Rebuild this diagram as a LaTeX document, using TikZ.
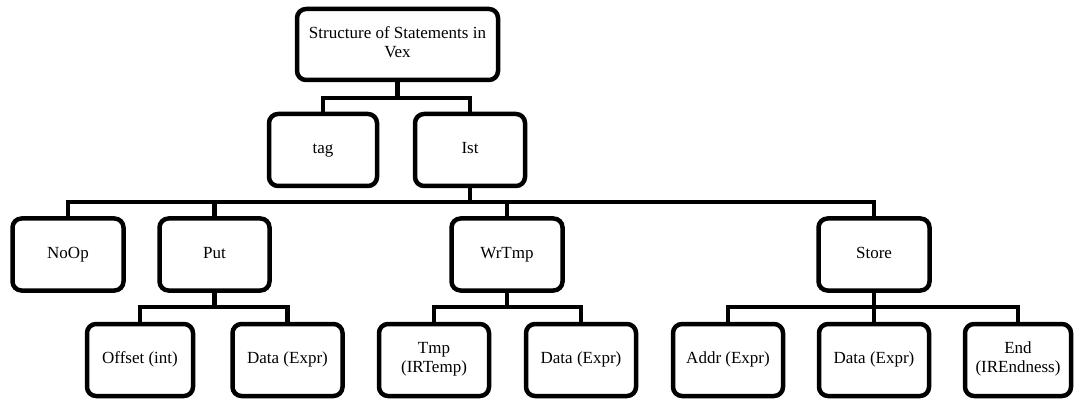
\documentclass[tikz,border=0pt]{standalone}
\usepackage{fontspec}
\setmainfont{Liberation Serif}
\begin{document}
\begin{tikzpicture}[x=1pt,y=-1pt,
  box/.style={draw=black, line width=4.5pt, rounded corners=9pt, fill=white,
    minimum width=110pt, minimum height=72pt, inner sep=0pt, align=center,
    font=\fontsize{17}{19}\selectfont,
    execute at begin node=\strut, execute at end node=\strut},
  wire/.style={draw=black, line width=4.5pt}]
\useasboundingbox[fill=white] (0,0) rectangle (1075,403);
% level 0
\node[box, minimum width=201pt, minimum height=71pt] (top) at (397.5,44.5) {Structure of Statements in\\Vex};
% level 1
\node[box, minimum width=108pt] (tag) at (323,150) {tag};
\node[box] (ist) at (470,150) {Ist};
% level 2
\node[box, minimum width=111pt] (noop) at (68,254.5) {NoOp};
\node[box] (put) at (214.5,254.5) {Put};
\node[box, minimum width=111pt] (wrtmp) at (507,254.5) {WrTmp};
\node[box, minimum width=111pt] (store) at (874,254.5) {Store};
% level 3
\node[box, minimum width=106pt] (offset) at (140,360) {Offset (int)};
\node[box] (data1) at (287.5,360) {Data (Expr)};
\node[box] (tmp) at (434,360) {Tmp\\(IRTemp)};
\node[box] (data2) at (581,360) {Data (Expr)};
\node[box] (addr) at (728,360) {Addr (Expr)};
\node[box] (data3) at (874,360) {Data (Expr)};
\node[box, minimum width=106pt] (end) at (1018,360) {End\\(IREndness)};
% bus levels
\coordinate (b1) at (0,98);
\coordinate (b2) at (0,202);
\coordinate (b3) at (0,307);
% connectors
\draw[wire] (top.south) -- (top.south |- b1);
\draw[wire] (tag.north) |- (ist.north |- b1) -- (ist.north);

\draw[wire] (ist.south) -- (ist.south |- b2);
\draw[wire] (noop.north) |- (store.north |- b2) -- (store.north);
\draw[wire] (put.north) -- (put.north |- b2);
\draw[wire] (wrtmp.north) -- (wrtmp.north |- b2);

\draw[wire] (put.south) -- (put.south |- b3);
\draw[wire] (offset.north) |- (data1.north |- b3) -- (data1.north);

\draw[wire] (wrtmp.south) -- (wrtmp.south |- b3);
\draw[wire] (tmp.north) |- (data2.north |- b3) -- (data2.north);

\draw[wire] (store.south) -- (store.south |- b3);
\draw[wire] (addr.north) |- (end.north |- b3) -- (end.north);
\draw[wire] (data3.north) -- (data3.north |- b3);
\end{tikzpicture}
\end{document}
